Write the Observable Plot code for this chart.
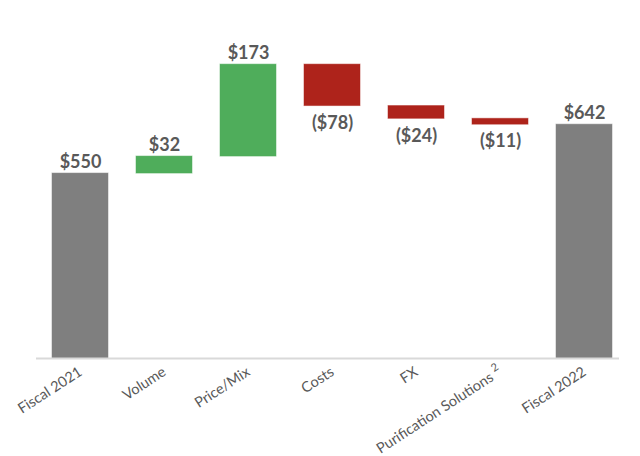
<!DOCTYPE html>
<html><head><meta charset="utf-8">
<script src="https://cdn.jsdelivr.net/npm/d3@7"></script>
<script src="https://cdn.jsdelivr.net/npm/@observablehq/plot@0.6"></script>
<style>body{margin:0;background:#fff;} #chart svg{display:block;overflow:visible;}</style>
</head><body><div id="chart"></div>
<script>
const categories = ["Fiscal 2021", "Volume", "Price/Mix", "Costs", "FX", "Purification Solutions 2", "Fiscal 2022"];
const values = [550, 32, 173, -78, -24, -11, 642];
const kinds = ["total", "delta", "delta", "delta", "delta", "delta", "total"];
const colors = {total: "#7f7f7f", up: "#4fad5b", down: "#ae231b"};
const yMin = 202;   // truncated axis start (reference axis doesn't start at 0)
const yMax = 838;

let run = 0;
const rows = categories.map((c, i) => {
  const v = values[i];
  let lo, hi, type;
  if (kinds[i] === "total") { lo = yMin; hi = v; run = v; type = "total"; }
  else { const start = run; run = run + v; lo = Math.min(start, run); hi = Math.max(start, run); type = v >= 0 ? "up" : "down"; }
  const label = v >= 0 ? `$${v}` : `($${-v})`;
  return {cat: c, lo, hi, type, label, neg: v < 0};
});

const chart = Plot.plot({
  width: 640, height: 456,
  marginLeft: 36, marginRight: 21, marginTop: 20, marginBottom: 98,
  style: {fontFamily: "Lato, 'Open Sans', sans-serif", color: "#595959", background: "#fff"},
  x: {domain: categories, range: [51, 613], paddingInner: 0.333, paddingOuter: 0, label: null},
  y: {domain: [yMin, yMax], axis: null},
  marks: [
    Plot.barY(rows, {x: "cat", y1: "lo", y2: "hi", fill: d => colors[d.type], stroke: d => colors[d.type], strokeOpacity: 0.5}),
    Plot.ruleY([yMin], {stroke: "#d9d9d9", strokeWidth: 2, dy: 0}),
    Plot.text(rows.filter(d => !d.neg), {x: "cat", y: "hi", text: "label", lineAnchor: "bottom", dy: -6, fontSize: 18, fontWeight: "bold", fill: "#595959"}),
    Plot.text(rows.filter(d => d.neg), {x: "cat", y: "lo", text: "label", lineAnchor: "top", dy: 10, fontSize: 18, fontWeight: "bold", fill: "#595959"}),
    Plot.axisX({tickSize: 0, tickPadding: 12, tickRotate: -33, fontSize: 14.5, label: null, fill: "#595959"})
  ]
});
document.getElementById("chart").append(chart);
// render the trailing "2" of the Purification label as a superscript
d3.select(chart).selectAll("text").each(function() {
  const t = d3.select(this);
  if (t.text() === "Purification Solutions 2") {
    t.text("Purification Solutions ");
    t.append("tspan").attr("font-size", 11).attr("dy", "-0.6em").text("2");
  }
});
</script></body></html>
